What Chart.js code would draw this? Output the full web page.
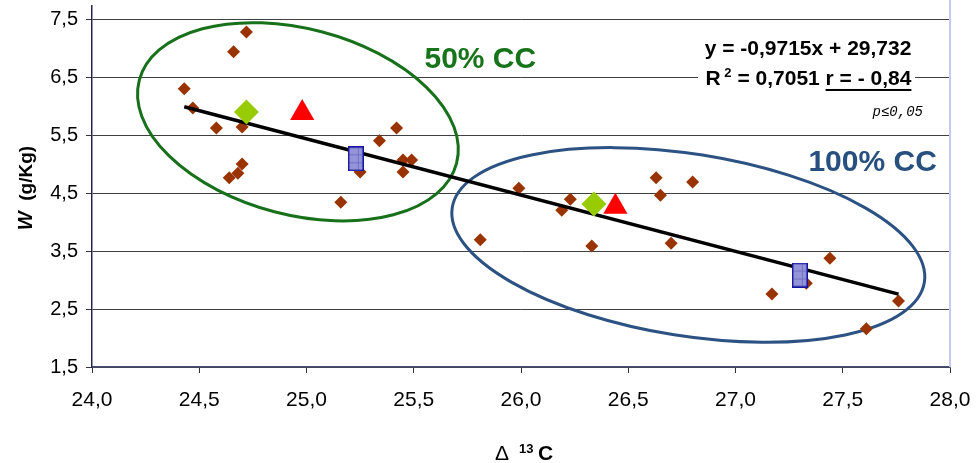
<!DOCTYPE html>
<html>
<head>
<meta charset="utf-8">
<script src="https://cdn.jsdelivr.net/npm/chart.js@4.4.0/dist/chart.umd.min.js"></script>
<style>
  html, body { margin: 0; padding: 0; background: #fff; }
  #wrap { width: 977px; height: 463px; }
</style>
</head>
<body>
<div id="wrap"><canvas id="wChart" width="977" height="463"></canvas></div>
<script>
// data
const samplesX = [24.72, 24.66, 24.43, 24.47, 24.58, 24.70, 24.70, 24.68, 24.64, 25.16,
                  25.25, 25.34, 25.42, 25.45, 25.49, 25.45, 25.99, 26.23, 26.19, 25.81,
                  26.33, 26.63, 26.65, 26.80, 26.70, 27.17, 27.33, 27.44, 27.76, 27.61];
const samplesY = [7.29, 6.95, 6.31, 5.98, 5.63, 5.65, 5.01, 4.85, 4.77, 4.35,
                  4.87, 5.41, 5.63, 5.08, 5.08, 4.87, 4.59, 4.40, 4.21, 3.70,
                  3.59, 4.77, 4.47, 4.70, 3.64, 2.76, 2.95, 3.38, 2.64, 2.16];

// group means (50% CC, 100% CC)
const greenX = [24.72, 26.34];
const greenY = [5.91, 4.32];
const redX = [24.98, 26.44];
const redY = [5.89, 4.27];
const blueX = [25.23, 27.30];
const blueY = [5.10, 3.09];

// regression line ends
const trendX = [24.43, 27.76];
const trendY = [6.00, 2.76];

const yTicks = [1.5, 2.5, 3.5, 4.5, 5.5, 6.5, 7.5];

const toPoints = (xs, ys) => xs.map((x, i) => ({ x: x, y: ys[i] }));
const fmt = v => v.toFixed(1).replace('.', ',');

// ellipses: centre in data units, radii in px, rotation in degrees
const ellipses = [
  { cx: 24.96, cy: 5.74, rx: 164, ry: 93, rot: 14.7, color: '#17701a' },
  { cx: 26.78, cy: 3.61, rx: 239, ry: 91, rot: 9.0, color: '#2b5283' }
];

// blue hatched rectangle used as a point style
function makeBlueBox() {
  const c = document.createElement('canvas');
  c.width = 16; c.height = 25;
  const g = c.getContext('2d');
  g.fillStyle = '#9494d8';
  g.fillRect(1, 1, 14, 23);
  g.strokeStyle = '#7272c4';
  g.lineWidth = 1;
  g.beginPath();
  g.moveTo(10.5, 2); g.lineTo(10.5, 23);
  g.moveTo(2, 8.5); g.lineTo(14, 8.5);
  g.moveTo(2, 16.5); g.lineTo(14, 16.5);
  g.stroke();
  g.strokeStyle = '#1414a0';
  g.lineWidth = 1.5;
  g.strokeRect(0.75, 0.75, 14.5, 23.5);
  return c;
}

const FONT = "'Liberation Sans', Arial, sans-serif";

const decorPlugin = {
  id: 'decor',
  beforeDatasetsDraw(chart) {
    const ctx = chart.ctx;
    const xs = chart.scales.x, ys = chart.scales.y;
    const area = chart.chartArea;

    // white box behind the equation
    ctx.save();
    ctx.fillStyle = '#fff';
    ctx.fillRect(698, 34, 217, 62);
    ctx.restore();

    // right border of plot
    ctx.save();
    ctx.strokeStyle = '#c8c8f4';
    ctx.lineWidth = 2;
    ctx.beginPath();
    ctx.moveTo(area.right, 0);
    ctx.lineTo(area.right, area.bottom);
    ctx.stroke();
    ctx.restore();

    ellipses.forEach(e => {
      ctx.save();
      ctx.strokeStyle = e.color;
      ctx.lineWidth = 3;
      ctx.beginPath();
      ctx.ellipse(xs.getPixelForValue(e.cx), ys.getPixelForValue(e.cy), e.rx, e.ry,
        e.rot * Math.PI / 180, 0, Math.PI * 2);
      ctx.stroke();
      ctx.restore();
    });
  },
  afterDraw(chart) {
    const ctx = chart.ctx;
    const xs = chart.scales.x, ys = chart.scales.y;
    const px = v => xs.getPixelForValue(v);
    const py = v => ys.getPixelForValue(v);

    ctx.save();

    // y tick labels
    ctx.fillStyle = '#000';
    ctx.font = '20px ' + FONT;
    ctx.textAlign = 'right';
    ctx.textBaseline = 'middle';
    yTicks.forEach(v => ctx.fillText(fmt(v), chart.chartArea.left - 14, py(v)));

    ctx.textBaseline = 'alphabetic';

    // group labels
    ctx.textAlign = 'left';
    ctx.font = 'bold 30px ' + FONT;
    ctx.fillStyle = '#17741a';
    ctx.fillText('50% CC', px(25.55), py(6.67));
    ctx.fillStyle = '#27507f';
    ctx.fillText('100% CC', px(27.34), py(4.89));

    // equation
    ctx.fillStyle = '#000';
    ctx.font = 'bold 21px ' + FONT;
    ctx.textAlign = 'right';
    const right = px(27.82);
    ctx.fillText('y = -0,9715x + 29,732', right, py(6.895));

    ctx.textAlign = 'left';
    const big = 'bold 21px ' + FONT, small = 'bold 13px ' + FONT;
    const parts = [
      { t: 'R', f: big, dy: 0 },
      { t: ' 2', f: small, dy: -8 },
      { t: ' = 0,7051 ', f: big, dy: 0 },
      { t: 'r = - 0,84', f: big, dy: 0, u: true }
    ];
    let total = 0;
    parts.forEach(p => { ctx.font = p.f; p.w = ctx.measureText(p.t).width; total += p.w; });
    let cx = right - total;
    const base2 = py(6.376);
    parts.forEach(p => {
      ctx.font = p.f;
      ctx.fillText(p.t, cx, base2 + p.dy);
      if (p.u) ctx.fillRect(cx, base2 + 4, p.w, 2);
      cx += p.w;
    });

    ctx.textAlign = 'right';
    ctx.font = "italic 14px 'Liberation Mono', 'Courier New', monospace";
    ctx.fillText('p≤0,05', px(27.874), py(5.84));

    // y axis title
    ctx.save();
    ctx.translate(32, 188);
    ctx.rotate(-Math.PI / 2);
    ctx.textAlign = 'left';
    const fW = 'italic bold 20px ' + FONT, fU = 'bold 19px ' + FONT;
    ctx.font = fW; const wW = ctx.measureText('W').width;
    ctx.font = fU; const wU = ctx.measureText('  (g/Kg)').width;
    let sx = -(wW + wU) / 2;
    ctx.font = fW; ctx.fillText('W', sx, 0);
    ctx.font = fU; ctx.fillText('  (g/Kg)', sx + wW, 0);
    ctx.restore();

    // x axis title
    ctx.textAlign = 'left';
    ctx.font = '21px ' + FONT;
    ctx.fillText('Δ', 495, 460);
    ctx.font = 'bold 13px ' + FONT;
    ctx.fillText('13', 519, 453);
    ctx.font = 'bold 21px ' + FONT;
    ctx.fillText('C', 538, 460);

    ctx.restore();
  }
};

document.addEventListener('DOMContentLoaded', () => {
  const ctx = document.getElementById('wChart').getContext('2d');
  new Chart(ctx, {
    type: 'scatter',
    data: {
      datasets: [
        {
          label: 'means 100%',
          data: toPoints(blueX, blueY),
          pointStyle: makeBlueBox(),
          order: 1
        },
        {
          label: 'means red',
          data: toPoints(redX, redY),
          pointStyle: 'triangle',
          pointRadius: 14,
          backgroundColor: '#ff0000',
          borderColor: '#ff0000',
          borderWidth: 0,
          order: 2
        },
        {
          label: 'means green',
          data: toPoints(greenX, greenY),
          pointStyle: 'rectRot',
          pointRadius: 12.5,
          backgroundColor: '#99cc00',
          borderColor: '#99cc00',
          borderWidth: 0,
          order: 3
        },
        {
          label: 'trend',
          type: 'line',
          data: toPoints(trendX, trendY),
          borderColor: '#000',
          borderWidth: 3.5,
          pointRadius: 0,
          fill: false,
          order: 4
        },
        {
          label: 'samples',
          data: toPoints(samplesX, samplesY),
          pointStyle: 'rectRot',
          pointRadius: 6.5,
          backgroundColor: '#993300',
          borderColor: '#993300',
          borderWidth: 0,
          order: 5
        }
      ]
    },
    options: {
      responsive: false,
      animation: false,
      devicePixelRatio: 1,
      font: { family: FONT },
      layout: { autoPadding: false, padding: { top: 5.5, right: 27, left: 0, bottom: 0 } },
      plugins: {
        legend: { display: false },
        tooltip: { enabled: false }
      },
      scales: {
        x: {
          type: 'linear',
          min: 24,
          max: 28,
          afterFit: s => { s.height = 96; s.paddingLeft = 0; s.paddingRight = 0; },
          ticks: {
            stepSize: 0.5,
            color: '#000',
            padding: 15,
            font: { family: FONT, size: 21 },
            callback: v => fmt(v)
          },
          grid: { drawOnChartArea: false, tickLength: 6, tickColor: '#333' },
          border: { color: '#4b4b78', width: 1.5 }
        },
        y: {
          min: 1.5,
          max: 7.75,
          afterFit: s => { s.width = 92; s.paddingTop = 0; s.paddingBottom = 0; },
          afterBuildTicks: s => { s.ticks = yTicks.map(v => ({ value: v })); },
          ticks: { display: false },
          grid: { color: '#404040', lineWidth: 1, tickLength: 6, tickColor: '#333' },
          border: { color: '#26264e', width: 1.5 }
        }
      }
    },
    plugins: [decorPlugin]
  });
});
</script>
</body>
</html>
